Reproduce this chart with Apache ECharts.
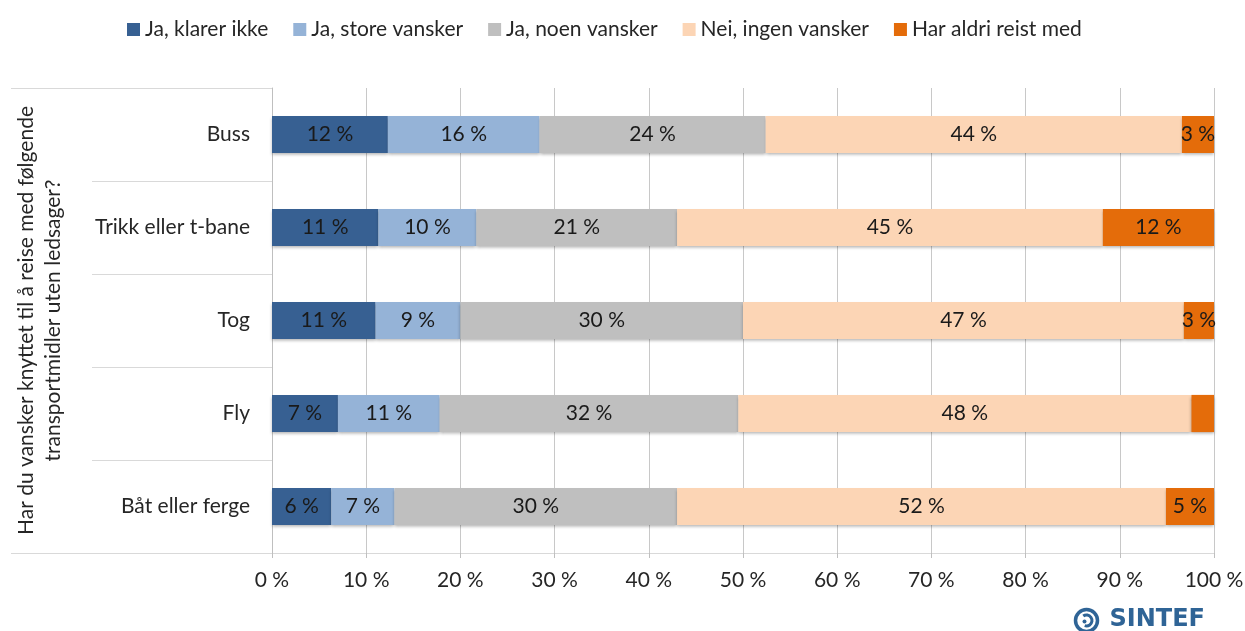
<!DOCTYPE html>
<html>
<head>
<meta charset="utf-8">
<script src="https://cdn.jsdelivr.net/npm/echarts@6/dist/echarts.min.js"></script>
<style>
  html, body { margin: 0; padding: 0; background: #fff; }
  #transport-chart { width: 1245px; height: 631px; }
</style>
</head>
<body>
<div id="transport-chart"></div>
<script>
const FONT = 'Lato'
const SIZE = 21
const GRID = { left: 272, right: 31, top: 88, bottom: 78 }

let categories = ['Buss', 'Trikk eller t-bane', 'Tog', 'Fly', 'Båt eller ferge']
let answers = [
  { name: 'Ja, klarer ikke', color: '#376092', data: [12.3, 11.3, 11.0, 7.0, 6.3] },
  { name: 'Ja, store vansker', color: '#95b3d7', data: [16.1, 10.4, 9.0, 10.8, 6.7] },
  { name: 'Ja, noen vansker', color: '#bfbfbf', data: [24.0, 21.3, 30.0, 31.7, 30.0] },
  { name: 'Nei, ingen vansker', color: '#fcd5b5', data: [44.2, 45.2, 46.8, 48.1, 51.9] },
  { name: 'Har aldri reist med', color: '#e46c0a', data: [3.4, 11.8, 3.2, 2.4, 5.1] }
]

let chart = echarts.init(document.getElementById('transport-chart'))
let h = 631
chart.setOption({
  textStyle: { fontFamily: FONT },
  legend: {
    top: 14,
    left: 122,
    itemWidth: 13,
    itemHeight: 13,
    itemGap: 25,
    icon: 'rect',
    textStyle: { fontSize: SIZE, color: '#262626', fontFamily: FONT },
    data: answers.map(item => item.name)
  },
  grid: Object.assign({ containLabel: false, outerBoundsMode: 'none' }, GRID),
  xAxis: {
    type: 'value',
    min: 0,
    max: 100,
    interval: 10,
    axisLine: { show: true, lineStyle: { color: '#d9d9d9', width: 1 } },
    axisTick: { show: true, length: 5, lineStyle: { color: '#bfbfbf' } },
    splitLine: { show: true, lineStyle: { color: '#c8c8c8', width: 1 } },
    axisLabel: {
      formatter: '{value} %',
      margin: 17,
      color: '#262626',
      fontSize: SIZE,
      fontFamily: FONT
    }
  },
  yAxis: {
    type: 'category',
    inverse: true,
    data: categories,
    name: 'Har du vansker knyttet til å reise med følgende\ntransportmidler uten ledsager?',
    nameLocation: 'middle',
    nameRotate: 90,
    nameGap: 205,
    nameTextStyle: { fontSize: SIZE, color: '#262626', lineHeight: 27, align: 'center', fontFamily: FONT },
    axisLine: { show: true, lineStyle: { color: '#bfbfbf' } },
    axisTick: { show: true, length: 180, interval: 0, lineStyle: { color: '#d9d9d9' } },
    axisLabel: { margin: 22, color: '#262626', fontSize: SIZE, fontFamily: FONT },
    splitLine: { show: false }
  },
  series: answers.map(item => ({
    name: item.name,
    type: 'bar',
    stack: 'total',
    barWidth: '40%',
    data: item.data,
    itemStyle: {
      color: item.color,
      shadowColor: 'rgba(0, 0, 0, 0.3)',
      shadowBlur: 3,
      shadowOffsetY: 2
    },
    label: {
      show: true,
      position: 'inside',
      color: '#1a1a1a',
      fontSize: SIZE,
      fontFamily: FONT,
      formatter: p => p.value < 3 ? '' : Math.round(p.value) + ' %'
    }
  })),
  graphic: [
    {
      type: 'line',
      shape: { x1: 11, y1: GRID.top + 0.5, x2: GRID.left, y2: GRID.top + 0.5 },
      style: { stroke: '#d9d9d9', lineWidth: 1 }
    },
    {
      type: 'line',
      shape: { x1: 11, y1: h - GRID.bottom + 0.5, x2: GRID.left, y2: h - GRID.bottom + 0.5 },
      style: { stroke: '#d9d9d9', lineWidth: 1 }
    },
    // SINTEF logo
    {
      type: 'group',
      left: 1073,
      top: 607,
      children: [
        { type: 'circle', shape: { cx: 13, cy: 13, r: 11 }, style: { fill: 'none', stroke: '#2f6496', lineWidth: 3.5 } },
        { type: 'arc', shape: { cx: 13, cy: 13, r: 5.5, startAngle: -2.2, endAngle: 1.9 }, style: { fill: 'none', stroke: '#2f6496', lineWidth: 3 } },
        { type: 'circle', shape: { cx: 11, cy: 14, r: 2 }, style: { fill: '#2f6496' } },
        {
          type: 'text',
          x: 36,
          y: 0,
          style: { text: 'SINTEF', fill: '#2f6496', font: 'bold 24px "DejaVu Sans"' }
        }
      ]
    }
  ]
})
</script>
</body>
</html>
